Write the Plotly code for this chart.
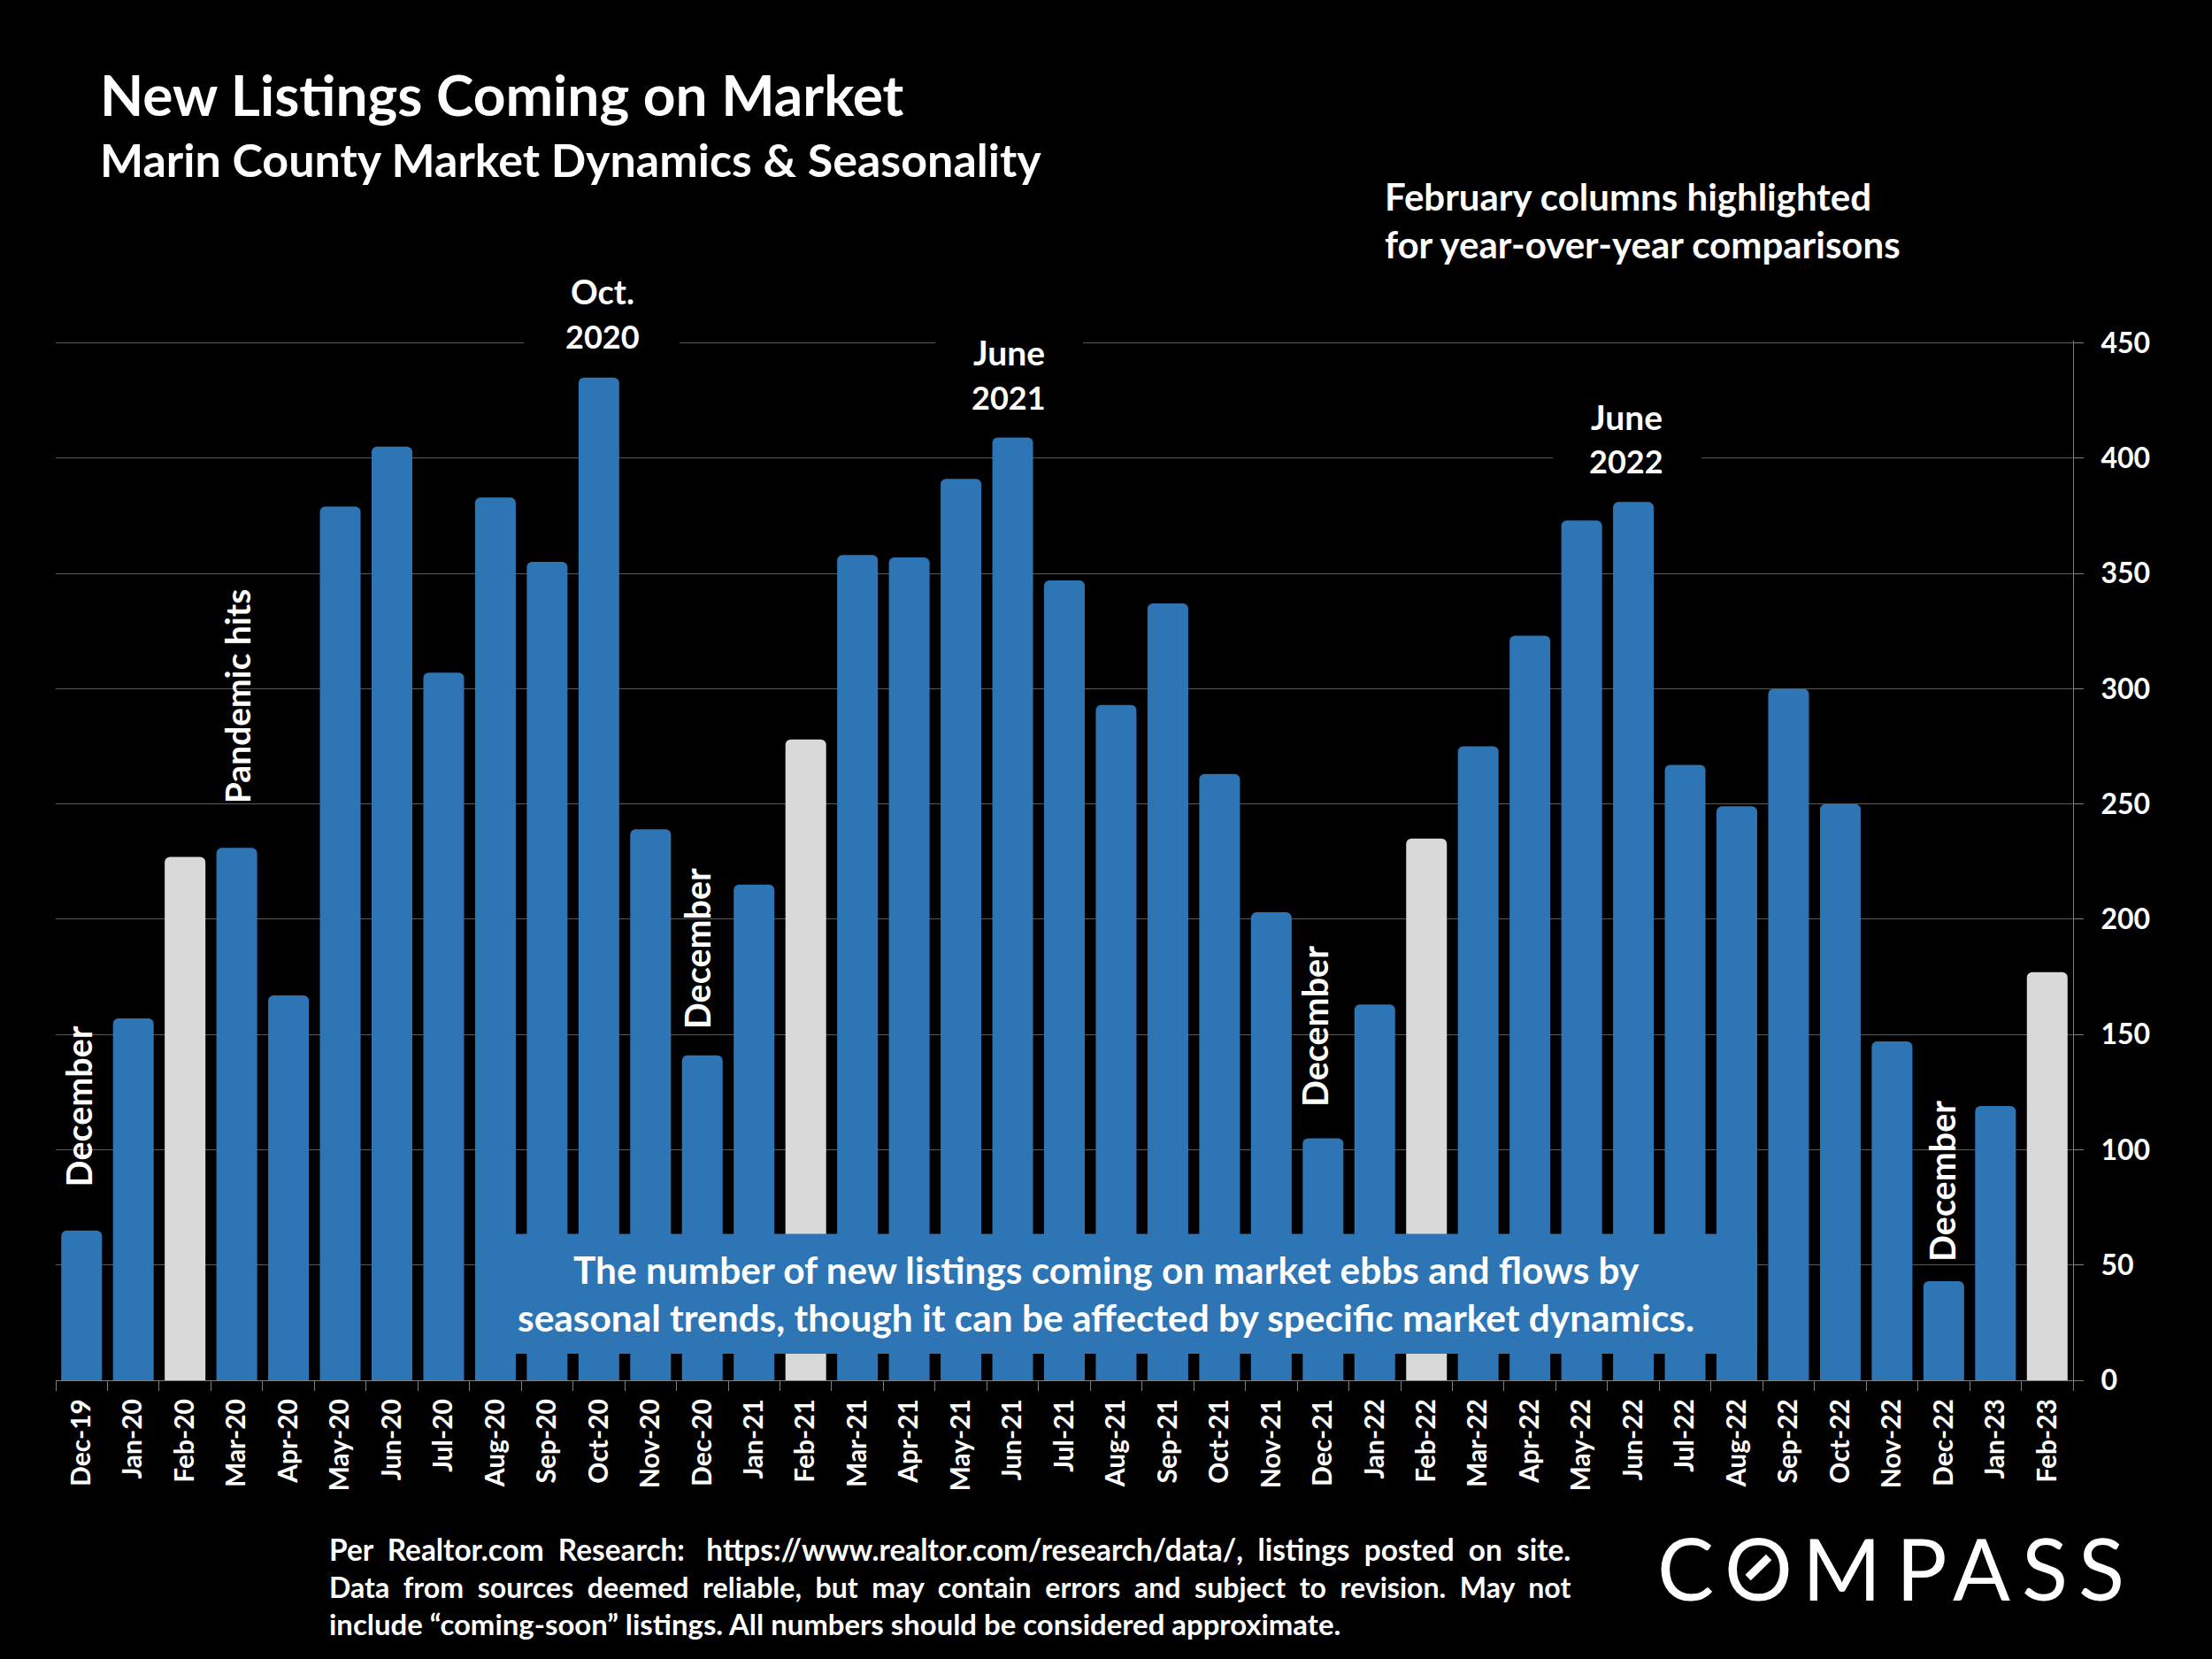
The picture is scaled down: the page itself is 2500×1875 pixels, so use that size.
import plotly.graph_objects as go

months = ['Dec-19', 'Jan-20', 'Feb-20', 'Mar-20', 'Apr-20', 'May-20', 'Jun-20', 'Jul-20', 'Aug-20', 'Sep-20',
          'Oct-20', 'Nov-20', 'Dec-20', 'Jan-21', 'Feb-21', 'Mar-21', 'Apr-21', 'May-21', 'Jun-21', 'Jul-21',
          'Aug-21', 'Sep-21', 'Oct-21', 'Nov-21', 'Dec-21', 'Jan-22', 'Feb-22', 'Mar-22', 'Apr-22', 'May-22',
          'Jun-22', 'Jul-22', 'Aug-22', 'Sep-22', 'Oct-22', 'Nov-22', 'Dec-22', 'Jan-23', 'Feb-23']
listings = [65, 157, 227, 231, 167, 379, 405, 307, 383, 355,
            435, 239, 141, 215, 278, 358, 357, 391, 409, 347,
            293, 337, 263, 203, 105, 163, 235, 275, 323, 373,
            381, 267, 249, 300, 250, 147, 43, 119, 177]
y_ticks = [0, 50, 100, 150, 200, 250, 300, 350, 400, 450]

FONT = 'Lato'
BLUE = '#2E75B6'
GREY = '#D9D9D9'
W, H = 2500, 1875
# top runs a touch past 450 so plotly keeps the 450 gridline
L, R, T, B = 62.5, 2343, 385.4, 1560


def px(x, y):
    # page pixels to paper coordinates
    return (x - L) / (R - L), (B - y) / (B - T)


def label(text, x, y, size, angle=0, anchor='center', weight='bold'):
    xp, yp = px(x, y)
    return dict(text=text, x=xp, y=yp, xref='paper', yref='paper', showarrow=False, textangle=angle,
                xanchor=anchor, yanchor='middle', align='center' if anchor == 'center' else 'left',
                font=dict(family=FONT, size=size, color='white', weight=weight))


def box(x0, y0, x1, y1, color):
    xa, ya = px(x0, y0)
    xb, yb = px(x1, y1)
    return dict(type='rect', xref='paper', yref='paper', x0=xa, y0=ya, x1=xb, y1=yb,
                fillcolor=color, line_width=0, layer='above')


fig = go.Figure(go.Bar(x=months, y=listings,
                       marker=dict(color=[GREY if m.startswith('Feb') else BLUE for m in months], line_width=0)))

notes = [
    label('New Listings Coming on Market', 111, 106.5, 64, anchor='left'),
    label('Marin County Market Dynamics &amp; Seasonality', 111, 180, 52, anchor='left'),
    label('February columns highlighted', 1563, 222, 42, anchor='left'),
    label('for year-over-year comparisons', 1563, 276, 42, anchor='left'),
    label('Oct.', 681, 329, 38),
    label('2020', 681, 380, 36),
    label('June', 1140, 398, 39),
    label('2021', 1140, 449, 36),
    label('June', 1838, 471.5, 39),
    label('2022', 1838, 521, 36),
    label('December', 88, 1250, 39.5, angle=-90),
    label('Pandemic hits', 267, 787, 39, angle=-90),
    label('December', 787, 1072, 39.5, angle=-90),
    label('December', 1486, 1160, 39.5, angle=-90),
    label('December', 2195, 1335, 39.5, angle=-90),
    label('The number of new listings coming on market ebbs and flows by', 1250, 1435, 42.4),
    label('seasonal trends, though it can be affected by specific market dynamics.', 1250, 1489, 42.4),
    label('Per\u00a0\u00a0Realtor.com\u00a0\u00a0Research:\u00a0\u00a0\u00a0https://www.realtor.com/research/data/,\u00a0\u00a0listings\u00a0\u00a0posted\u00a0\u00a0on\u00a0\u00a0site.',
          370, 1751, 33.4, anchor='left'),
    label('Data\u00a0\u00a0from\u00a0\u00a0sources\u00a0\u00a0deemed\u00a0\u00a0reliable,\u00a0\u00a0but\u00a0\u00a0may\u00a0\u00a0contain\u00a0\u00a0errors\u00a0\u00a0and\u00a0\u00a0subject\u00a0\u00a0to\u00a0\u00a0revision.\u00a0\u00a0May\u00a0\u00a0not',
          370, 1793, 32.1, anchor='left'),
    label('include \u201ccoming-soon\u201d listings. All numbers should be considered approximate.', 370, 1835, 32.9, anchor='left'),
]
# logo letters, spaced out by hand
for letter, x in zip('COMPASS', [1904.5, 1987.5, 2081, 2172, 2239, 2311, 2375]):
    notes.append(label(letter, x, 1771, 96, weight='normal'))

sx0, sy0 = px(1975.5, 1783)
sx1, sy1 = px(1999, 1760)
shapes = [
    # black text backgrounds that break the gridlines behind the peak labels
    box(592, 310, 768, 410, 'black'),
    box(1057, 375, 1224, 470, 'black'),
    box(1755, 450, 1923, 545, 'black'),
    box(537, 1394.5, 1986, 1530, BLUE),
    dict(type='line', xref='paper', yref='paper', x0=sx0, y0=sy0, x1=sx1, y1=sy1,
         line=dict(color='white', width=9), layer='above'),
]

fig.update_layout(
    width=W,
    height=H,
    margin=dict(l=L, r=W - R, t=T, b=H - B, pad=0),
    paper_bgcolor='black',
    plot_bgcolor='black',
    bargap=0.213,
    barcornerradius=6,
    showlegend=False,
    annotations=notes,
    shapes=shapes,
)
fig.update_xaxes(type='category', range=[-0.5, 38.5], tickson='boundaries', ticks='outside', ticklen=11,
                 tickcolor='#7F7F7F', showline=True, linecolor='#7F7F7F', linewidth=1, showgrid=False,
                 tickangle=-90, ticklabelstandoff=8,
                 tickfont=dict(family=FONT, size=30, color='white', weight='bold'))
fig.update_yaxes(side='right', range=[0, 451], tickvals=y_ticks, ticks='outside', ticklen=11,
                 tickcolor='#7F7F7F', showline=True, linecolor='#7F7F7F', linewidth=1,
                 showgrid=True, gridcolor='#595959', gridwidth=1, zeroline=False, ticklabelstandoff=13,
                 tickfont=dict(family=FONT, size=32, color='white', weight='bold'))

fig.write_html('out.html', config={'displayModeBar': False},
               post_script="document.body.style.margin='0';")
